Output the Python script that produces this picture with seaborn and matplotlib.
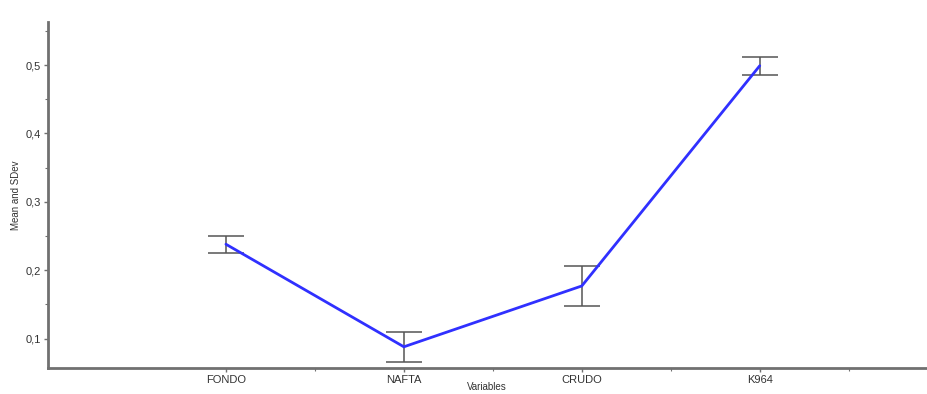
import matplotlib
matplotlib.use("Agg")
import matplotlib.pyplot as plt
from matplotlib.ticker import FixedLocator, FuncFormatter, MultipleLocator
import pandas as pd
import seaborn as sns

# Mean and standard deviation per variable
variables = ["FONDO", "NAFTA", "CRUDO", "K964"]
means = [0.238, 0.088, 0.177, 0.499]
sdevs = [0.0125, 0.022, 0.0295, 0.013]

sns.set_style("white")
plt.rcParams["font.family"] = ["Liberation Sans", "DejaVu Sans"]

positions = list(range(1, len(variables) + 1))
df = pd.DataFrame({"pos": positions, "mean": means, "sd": sdevs, "var": variables})

fig = plt.figure(figsize=(9.27, 3.94), dpi=100)
ax = fig.add_axes([48 / 927, 26 / 394, 1 - 48 / 927, (368 - 22) / 394])

ax.errorbar(df["pos"], df["mean"], yerr=df["sd"], fmt="none",
            ecolor="#555555", elinewidth=1.1, capsize=13, capthick=1.1, zorder=2)
sns.lineplot(data=df, x="pos", y="mean", ax=ax, color="#3030ff",
             linewidth=2.0, zorder=3, sort=False)

ax.set_xlim(0, 4.94)
ax.set_ylim(0.057, 0.563)
ax.xaxis.set_major_locator(FixedLocator(positions))
ax.set_xticklabels(variables)
ax.xaxis.set_minor_locator(FixedLocator([1.5, 2.5, 3.5, 4.5]))
ax.yaxis.set_major_locator(MultipleLocator(0.1))
ax.yaxis.set_minor_locator(MultipleLocator(0.05))
ax.yaxis.set_major_formatter(FuncFormatter(lambda v, p: f"{v:.1f}".replace(".", ",")))

for side in ["top", "right"]:
    ax.spines[side].set_visible(False)
for side in ["left", "bottom"]:
    ax.spines[side].set_color("#707070")
    ax.spines[side].set_linewidth(2.0)

ax.tick_params(axis="both", which="both", direction="out", color="#707070",
               labelsize=8, labelcolor="#333333", pad=2)
ax.tick_params(axis="both", which="major", length=3, width=1, left=True, bottom=True)
ax.tick_params(axis="both", which="minor", length=2, width=0.8, left=True, bottom=True)

ax.set_xlabel("Variables", fontsize=7, color="#333333")
ax.set_ylabel("Mean and SDev", fontsize=7, color="#333333")
ax.xaxis.set_label_coords(487 / 879 - 48 / 879, -19 / 346, transform=ax.transAxes)
ax.yaxis.set_label_coords(-32 / 879, 0.5, transform=ax.transAxes)
ax.xaxis.label.set_va("center")
ax.yaxis.label.set_va("center")

fig.savefig("out.png", dpi=100)
